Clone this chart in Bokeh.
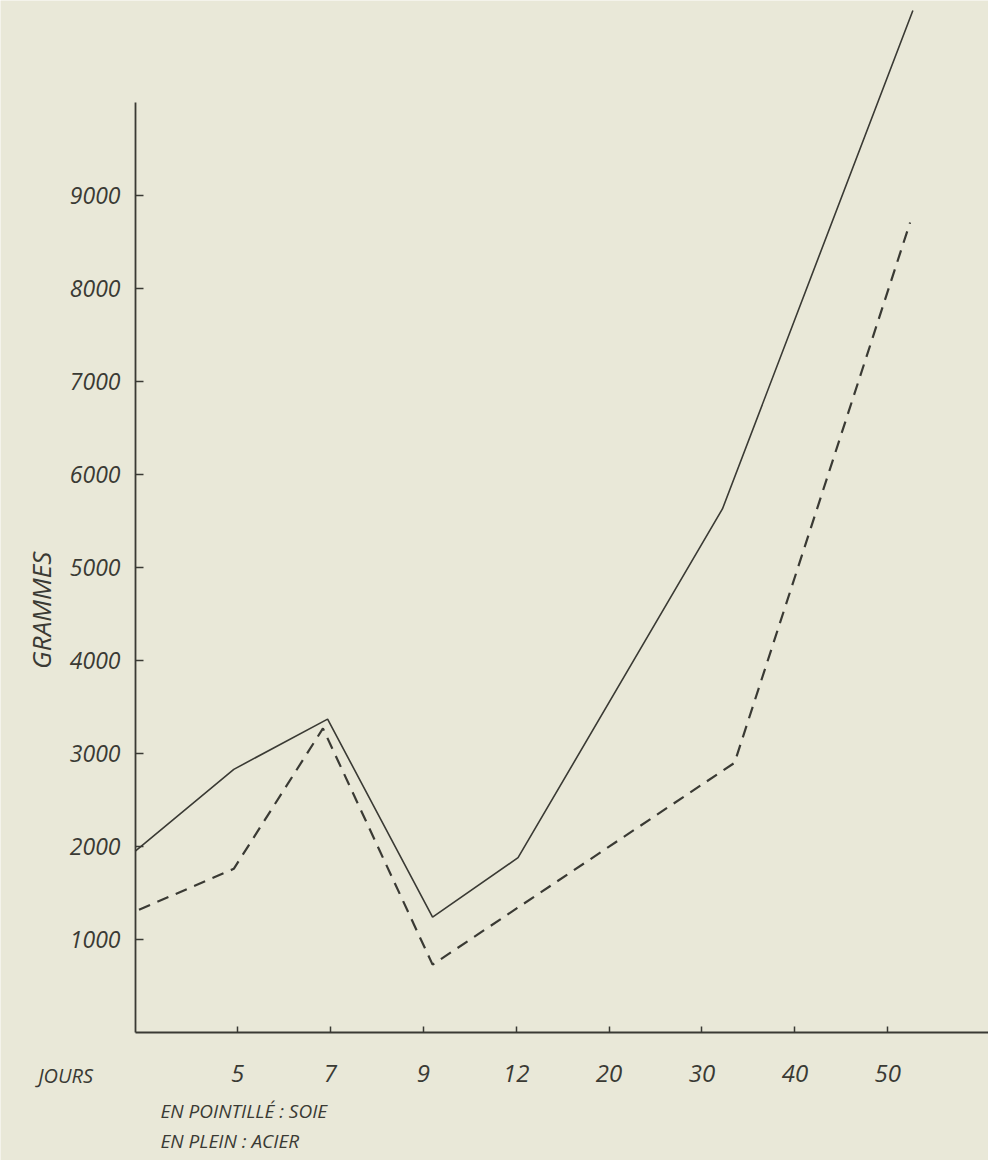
import math
from bokeh.plotting import figure
from bokeh.models import Label, FixedTicker, Range1d
from bokeh.embed import file_html
from bokeh.resources import INLINE

# ---- data ----
day_labels = ["5", "7", "9", "12", "20", "30", "40", "50"]
day_ticks = [1, 2, 3, 4, 5, 6, 7, 8]
gram_ticks = [1000, 2000, 3000, 4000, 5000, 6000, 7000, 8000, 9000]

# acier (solid line)
acier_x = [-0.1, 0.96, 1.97, 3.10, 4.02, 6.22, 8.27]
acier_y = [1950, 2830, 3370, 1240, 1880, 5630, 10990]

# soie (dashed line)
soie_x = [-0.06, 0.96, 1.92, 3.10, 6.35, 8.24]
soie_y = [1320, 1760, 3270, 730, 2900, 8710]

BG = "#e9e8d8"
INK = "#3a3a34"
FONT = "Open Sans"

X0 = -0.098          # where the vertical axis stands
X_START, X_END = -1.551, 9.084
Y_START, Y_END = -1376, 11097

p = figure(width=988, height=1160,
           x_range=Range1d(X_START, X_END), y_range=Range1d(Y_START, Y_END),
           output_backend="svg", toolbar_location=None,
           min_border=0, min_border_left=0, min_border_right=0,
           min_border_top=0, min_border_bottom=0)
p.background_fill_color = BG
p.border_fill_color = BG
p.outline_line_color = None
p.grid.visible = False

# lines
p.line(acier_x, acier_y, line_color=INK, line_width=1.6)
p.line(soie_x, soie_y, line_color=INK, line_width=2.2, line_dash="12 8")

# x axis
xa = p.xaxis[0]
xa.fixed_location = 0
xa.bounds = (X0, X_END)
xa.ticker = FixedTicker(ticks=day_ticks)
xa.major_label_overrides = {t: l for t, l in zip(day_ticks, day_labels)}
xa.axis_line_color = INK
xa.axis_line_width = 1.8
xa.major_tick_line_color = INK
xa.major_tick_line_width = 1.5
xa.major_tick_in = 6
xa.major_tick_out = 0
xa.minor_tick_in = 0
xa.minor_tick_out = 0
xa.major_label_standoff = 32
xa.major_label_text_font = FONT
xa.major_label_text_font_style = "italic"
xa.major_label_text_font_size = "24px"
xa.major_label_text_color = INK

# y axis
ya = p.yaxis[0]
ya.fixed_location = X0
ya.ticker = FixedTicker(ticks=gram_ticks)
ya.bounds = (0, 10000)
ya.axis_line_color = INK
ya.axis_line_width = 1.8
ya.major_tick_line_color = INK
ya.major_tick_line_width = 1.5
ya.major_tick_in = 8
ya.major_tick_out = 0
ya.minor_tick_in = 0
ya.minor_tick_out = 0
ya.major_label_standoff = 15
ya.major_label_text_font = FONT
ya.major_label_text_font_style = "italic"
ya.major_label_text_font_size = "23px"
ya.major_label_text_color = INK

def lab(text, x, y, size, angle=0.0, align="left"):
    p.add_layout(Label(x=x, y=y, text=text, angle=angle,
                       text_font=FONT, text_font_style="italic",
                       text_font_size=size, text_color=INK,
                       text_align=align, text_baseline="middle"))

lab("GRAMMES", -1.12, 4540, "26px", angle=math.pi / 2, align="center")
lab("JOURS", -0.85, -460, "20px", align="center")
lab("EN POINTILLÉ : SOIE", 0.171, -840, "19px")
lab("EN PLEIN : ACIER", 0.171, -1170, "19px")

open("out.html", "w").write(file_html(p, INLINE))
